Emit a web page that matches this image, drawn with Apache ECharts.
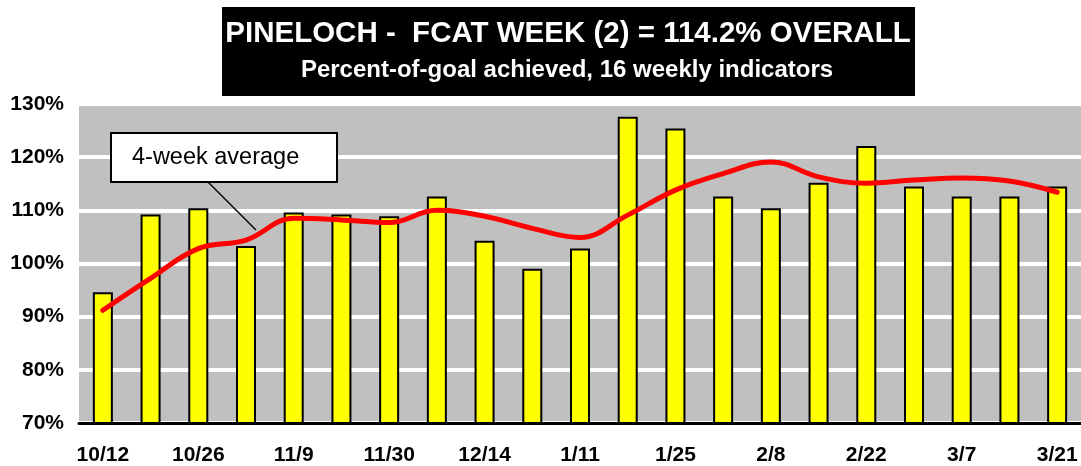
<!DOCTYPE html>
<html><head><meta charset="utf-8">
<script src="https://cdn.jsdelivr.net/npm/echarts@6/dist/echarts.min.js"></script>
<style>html,body{margin:0;padding:0;background:#fff}#c{width:1081px;height:466px}</style>
</head><body><div id="c"></div>
<script>
const titleText = 'PINELOCH -  FCAT WEEK (2) = 114.2% OVERALL';
const subtitleText = 'Percent-of-goal achieved, 16 weekly indicators';
const annotationText = '4-week average';
const categories = ['10/12','10/19','10/26','11/2','11/9','11/16','11/30','12/7','12/14','1/4','1/11','1/18','1/25','2/1','2/8','2/15','2/22','2/29','3/7','3/14','3/21'];
const weeklyValues = [94.6,109.2,110.4,103.3,109.6,109.2,108.9,112.6,104.3,99.0,102.8,127.6,125.4,112.6,110.4,115.2,122.1,114.5,112.6,112.6,114.5];
const fourWeekAvg = [91.2,97.2,102.8,104.4,108.5,108.2,107.7,110.0,108.9,106.6,104.9,109.1,113.8,116.9,119.1,116.3,115.1,115.7,116.1,115.5,113.4];
const yMin = 70, yMax = 130, yStep = 10;

const FONT = '"Liberation Sans", Arial, sans-serif';
const chart = echarts.init(document.getElementById('c'));
chart.setOption({
  animation: false,
  backgroundColor: '#ffffff',
  grid: { left: 79, right: 0, top: 104, bottom: 43, show: true, backgroundColor: '#c0c0c0', borderWidth: 0 },
  xAxis: {
    type: 'category', data: categories, boundaryGap: true,
    axisLine: { lineStyle: { color: '#000', width: 3 } },
    axisTick: { show: false },
    axisLabel: { interval: 1, color: '#000', fontFamily: FONT, fontWeight: 'bold', fontSize: 21, margin: 22 },
    splitLine: { show: false }
  },
  yAxis: {
    type: 'value', min: yMin, max: yMax, interval: yStep,
    axisLine: { show: false }, axisTick: { show: false },
    axisLabel: { formatter: '{value}%', color: '#000', fontFamily: FONT, fontWeight: 'bold', fontSize: 21, margin: 15 },
    splitLine: { show: true, lineStyle: { color: '#ffffff', width: 4 } }
  },
  series: [
    { type: 'bar', data: weeklyValues, barWidth: 20,
      itemStyle: { color: '#ffff00', borderColor: '#000', borderWidth: 2 }, z: 2 },
    { type: 'line', data: fourWeekAvg, smooth: 0.4, symbol: 'none',
      lineStyle: { color: '#ff0000', width: 5, cap: 'round' }, z: 3 }
  ],
  graphic: [
    { type: 'rect', left: 222, top: 7, shape: { width: 693, height: 89 }, style: { fill: '#000' }, z: 10 },
    { type: 'text', x: 568, y: 34, style: { text: titleText, fill: '#fff', font: 'bold 29.5px ' + FONT, textAlign: 'center', textVerticalAlign: 'middle' }, z: 11 },
    { type: 'text', x: 567, y: 70, style: { text: subtitleText, fill: '#fff', font: 'bold 24px ' + FONT, textAlign: 'center', textVerticalAlign: 'middle' }, z: 11 },
    { type: 'line', shape: { x1: 208, y1: 182, x2: 256, y2: 230 }, style: { stroke: '#000', lineWidth: 1.5 }, z: 10 },
    { type: 'rect', shape: { x: 111, y: 133, width: 226, height: 49 }, style: { fill: '#fff', stroke: '#000', lineWidth: 2 }, z: 10 },
    { type: 'text', x: 132, y: 158, style: { text: annotationText, fill: '#000', font: '23.5px ' + FONT, textVerticalAlign: 'middle' }, z: 11 }
  ]
});
</script></body></html>
